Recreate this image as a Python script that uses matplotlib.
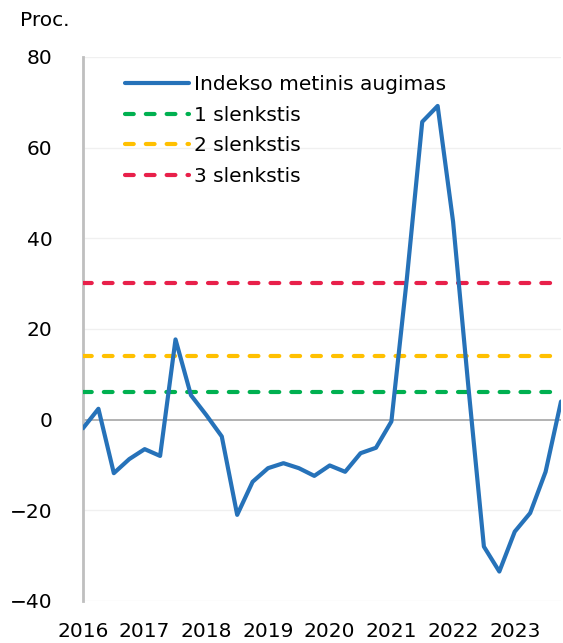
import numpy as np
import matplotlib
matplotlib.use('Agg')
import matplotlib.pyplot as plt

# Quarterly index growth, 2016 Q1 - 2023 Q4 (percent)
growth = [-1.9, 2.4, -11.8, -8.7, -6.5, -8.0, 17.7, 5.4,
          1.0, -3.7, -21.0, -13.7, -10.7, -9.6, -10.7, -12.4,
          -10.1, -11.5, -7.4, -6.2, -0.4, 31.0, 65.7, 69.2,
          43.7, 7.0, -28.0, -33.5, -24.7, -20.6, -11.5, 4.0]
years = ['2016', '2017', '2018', '2019', '2020', '2021', '2022', '2023']

# Threshold levels
thresholds = [6.2, 14.1, 30.2]
threshold_labels = ['1 slenkstis', '2 slenkstis', '3 slenkstis']
threshold_colors = ['#00B050', '#FFC000', '#E8204A']

plt.rcParams['font.family'] = 'DejaVu Sans'
FS = 14.5

fig = plt.figure(figsize=(5.63, 6.43), dpi=100)
ax = fig.add_axes([83 / 563, 1 - 601 / 643, 478 / 563, 544 / 643])

x = np.arange(len(growth))

ax.plot(x, growth, color='#2672B9', lw=3, solid_joinstyle='round',
        solid_capstyle='round', label='Indekso metinis augimas', zorder=4)

for val, lab, col in zip(thresholds, threshold_labels, threshold_colors):
    ax.plot([x[0], x[-1]], [val, val], color=col, lw=3,
            linestyle=(0, (2.1, 2.9)), dash_capstyle='round', label=lab, zorder=3)

ax.set_xlim(0, len(growth) - 1)
ax.set_ylim(-40, 80)
ax.set_yticks(range(-40, 81, 20))
ax.set_yticklabels(['\u221240', '\u221220', '0', '20', '40', '60', '80'])
ax.set_xticks(range(0, len(growth), 4))
ax.set_xticklabels(years)

for y in range(-40, 81, 20):
    if y != 0:
        ax.axhline(y, color='#F0F0F0', lw=1, zorder=1)
ax.axhline(0, color='#A6A6A6', lw=1.2, zorder=2)

for s in ['top', 'right', 'bottom']:
    ax.spines[s].set_visible(False)
ax.spines['left'].set_color('#BFBFBF')
ax.spines['left'].set_linewidth(2)

ax.tick_params(axis='both', length=0, labelsize=FS)
ax.tick_params(axis='y', pad=22)
ax.tick_params(axis='x', pad=15)

fig.text(20 / 563, 1 - 20 / 643, 'Proc.', fontsize=FS, va='center', ha='left')

ax.legend(loc='upper left', bbox_to_anchor=(0.0877, 0.967), frameon=False,
          fontsize=FS, borderaxespad=0, borderpad=0, handlelength=3.2,
          handletextpad=0.25, labelspacing=0.58)

fig.savefig('out.png', dpi=100)
